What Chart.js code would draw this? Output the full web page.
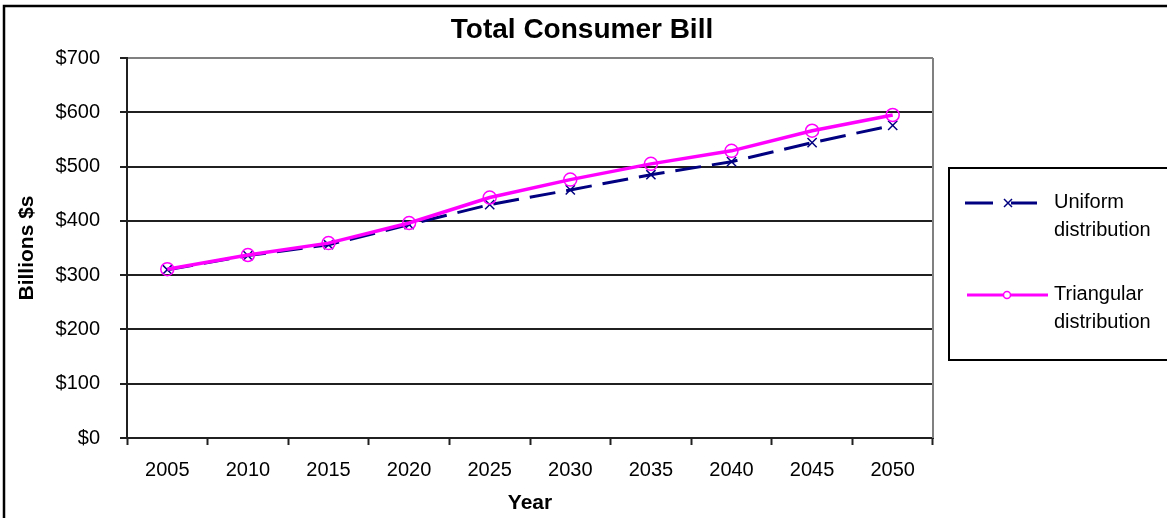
<!DOCTYPE html>
<html>
<head>
<meta charset="utf-8">
<title>Total Consumer Bill</title>
<script src="https://cdn.jsdelivr.net/npm/chart.js@4.4.0/dist/chart.umd.min.js"></script>
<style>
    html, body { margin: 0; padding: 0; background: #fff; }
    canvas { display: block; }
</style>
</head>
<body>
<canvas id="billChart" width="1167" height="518"></canvas>
<script>
// values, billions of dollars
const years = ['2005', '2010', '2015', '2020', '2025', '2030', '2035', '2040', '2045', '2050'];
const uniform = [310, 336, 356, 393, 430, 457, 485, 509, 544, 576];
const triangular = [311, 337, 359, 396, 443, 476, 505, 529, 566, 595];
const seriesNames = ['Uniform distribution', 'Triangular distribution'];
const chartTitle = 'Total Consumer Bill';
const xTitle = 'Year';
const yTitle = 'Billions $s';

const FONT = '"Liberation Sans", Arial, sans-serif';
const NAVY = '#000080';
const PINK = '#ff00ff';

// title, frame, plot border and the boxed legend, drawn by hand
const decorPlugin = {
    id: 'decor',
    afterDraw(chart) {
        const ctx = chart.ctx;
        const area = chart.chartArea;
        ctx.save();

        // outer frame (cut off at right and bottom)
        ctx.strokeStyle = '#000';
        ctx.lineWidth = 2.5;
        ctx.beginPath();
        ctx.moveTo(4, 520);
        ctx.lineTo(4, 6);
        ctx.lineTo(1170, 6);
        ctx.stroke();

        // right border of plot area
        ctx.strokeStyle = '#808080';
        ctx.lineWidth = 2;
        ctx.beginPath();
        ctx.moveTo(area.right, area.top);
        ctx.lineTo(area.right, area.bottom);
        ctx.stroke();

        // title
        ctx.fillStyle = '#000';
        ctx.font = 'bold 28px ' + FONT;
        ctx.textAlign = 'center';
        ctx.textBaseline = 'alphabetic';
        ctx.fillText(chartTitle, 582, 38);

        // legend box
        ctx.strokeStyle = '#000';
        ctx.lineWidth = 2;
        ctx.strokeRect(949, 168, 230, 192);

        // uniform entry
        ctx.strokeStyle = NAVY;
        ctx.lineWidth = 3;
        ctx.beginPath();
        ctx.moveTo(965, 203); ctx.lineTo(993, 203);
        ctx.moveTo(1011, 203); ctx.lineTo(1037, 203);
        ctx.stroke();
        ctx.lineWidth = 1.5;
        ctx.beginPath();
        ctx.moveTo(1004, 199); ctx.lineTo(1012, 207);
        ctx.moveTo(1012, 199); ctx.lineTo(1004, 207);
        ctx.stroke();

        // triangular entry
        ctx.strokeStyle = PINK;
        ctx.lineWidth = 3;
        ctx.beginPath();
        ctx.moveTo(967, 295); ctx.lineTo(1048, 295);
        ctx.stroke();
        ctx.lineWidth = 1.5;
        ctx.fillStyle = '#fff';
        ctx.beginPath();
        ctx.arc(1007, 295, 3.5, 0, Math.PI * 2);
        ctx.fill();
        ctx.stroke();

        ctx.fillStyle = '#000';
        ctx.font = '20px ' + FONT;
        ctx.textAlign = 'left';
        ctx.textBaseline = 'middle';
        const rows = [202, 294];
        seriesNames.forEach((name, i) => {
            name.split(' ').forEach((word, j) => {
                ctx.fillText(word, 1054, rows[i] + j * 28);
            });
        });

        ctx.restore();
    }
};

function setupChart() {
    const ctx = document.getElementById('billChart');
    return new Chart(ctx, {
        type: 'line',
        data: {
            labels: years,
            datasets: [{
                label: seriesNames[0],
                data: uniform,
                borderColor: NAVY,
                borderWidth: 3,
                borderDash: [26, 11],
                pointStyle: 'crossRot',
                pointRadius: 6.5,
                pointBorderWidth: 1.5,
                pointBorderColor: NAVY,
                pointBackgroundColor: NAVY,
                tension: 0,
                order: 2
            }, {
                label: seriesNames[1],
                data: triangular,
                borderColor: PINK,
                borderWidth: 3.5,
                pointStyle: 'circle',
                pointRadius: 6.5,
                pointBorderWidth: 1.5,
                pointBorderColor: PINK,
                pointBackgroundColor: 'rgba(0,0,0,0)',
                tension: 0,
                order: 1
            }]
        },
        options: {
            responsive: false,
            animation: false,
            layout: {
                padding: {top: 58, left: 6, right: 234, bottom: 0}
            },
            plugins: {
                legend: {display: false},
                title: {display: false},
                tooltip: {enabled: false}
            },
            scales: {
                x: {
                    offset: true,
                    afterFit: (scale) => { scale.height = 80; },
                    grid: {
                        offset: true,
                        drawOnChartArea: false,
                        drawTicks: true,
                        tickLength: 7,
                        tickWidth: 2,
                        tickColor: '#202020'
                    },
                    border: {color: '#202020', width: 2},
                    ticks: {
                        color: '#000',
                        font: {family: FONT, size: 20},
                        padding: 13,
                        maxRotation: 0,
                        autoSkip: false
                    },
                    title: {
                        display: true,
                        text: xTitle,
                        color: '#000',
                        font: {family: FONT, size: 21, weight: 'bold'},
                        padding: {top: 0, bottom: 2}
                    }
                },
                y: {
                    min: 0,
                    max: 700,
                    afterFit: (scale) => { scale.width = 121; },
                    grid: {
                        color: (c) => c.tick && c.tick.value === 700 ? '#808080' : '#202020',
                        lineWidth: 2,
                        tickLength: 7,
                        tickColor: '#202020'
                    },
                    border: {color: '#202020', width: 2},
                    ticks: {
                        stepSize: 100,
                        color: '#000',
                        font: {family: FONT, size: 20},
                        padding: 20,
                        callback: (v) => '$' + v
                    },
                    title: {
                        display: true,
                        text: yTitle,
                        color: '#000',
                        font: {family: FONT, size: 21, weight: 'bold'},
                        padding: {top: 9, bottom: 0}
                    }
                }
            }
        },
        plugins: [decorPlugin]
    });
}

function main() {
    setupChart();
}

main();
</script>
</body>
</html>
